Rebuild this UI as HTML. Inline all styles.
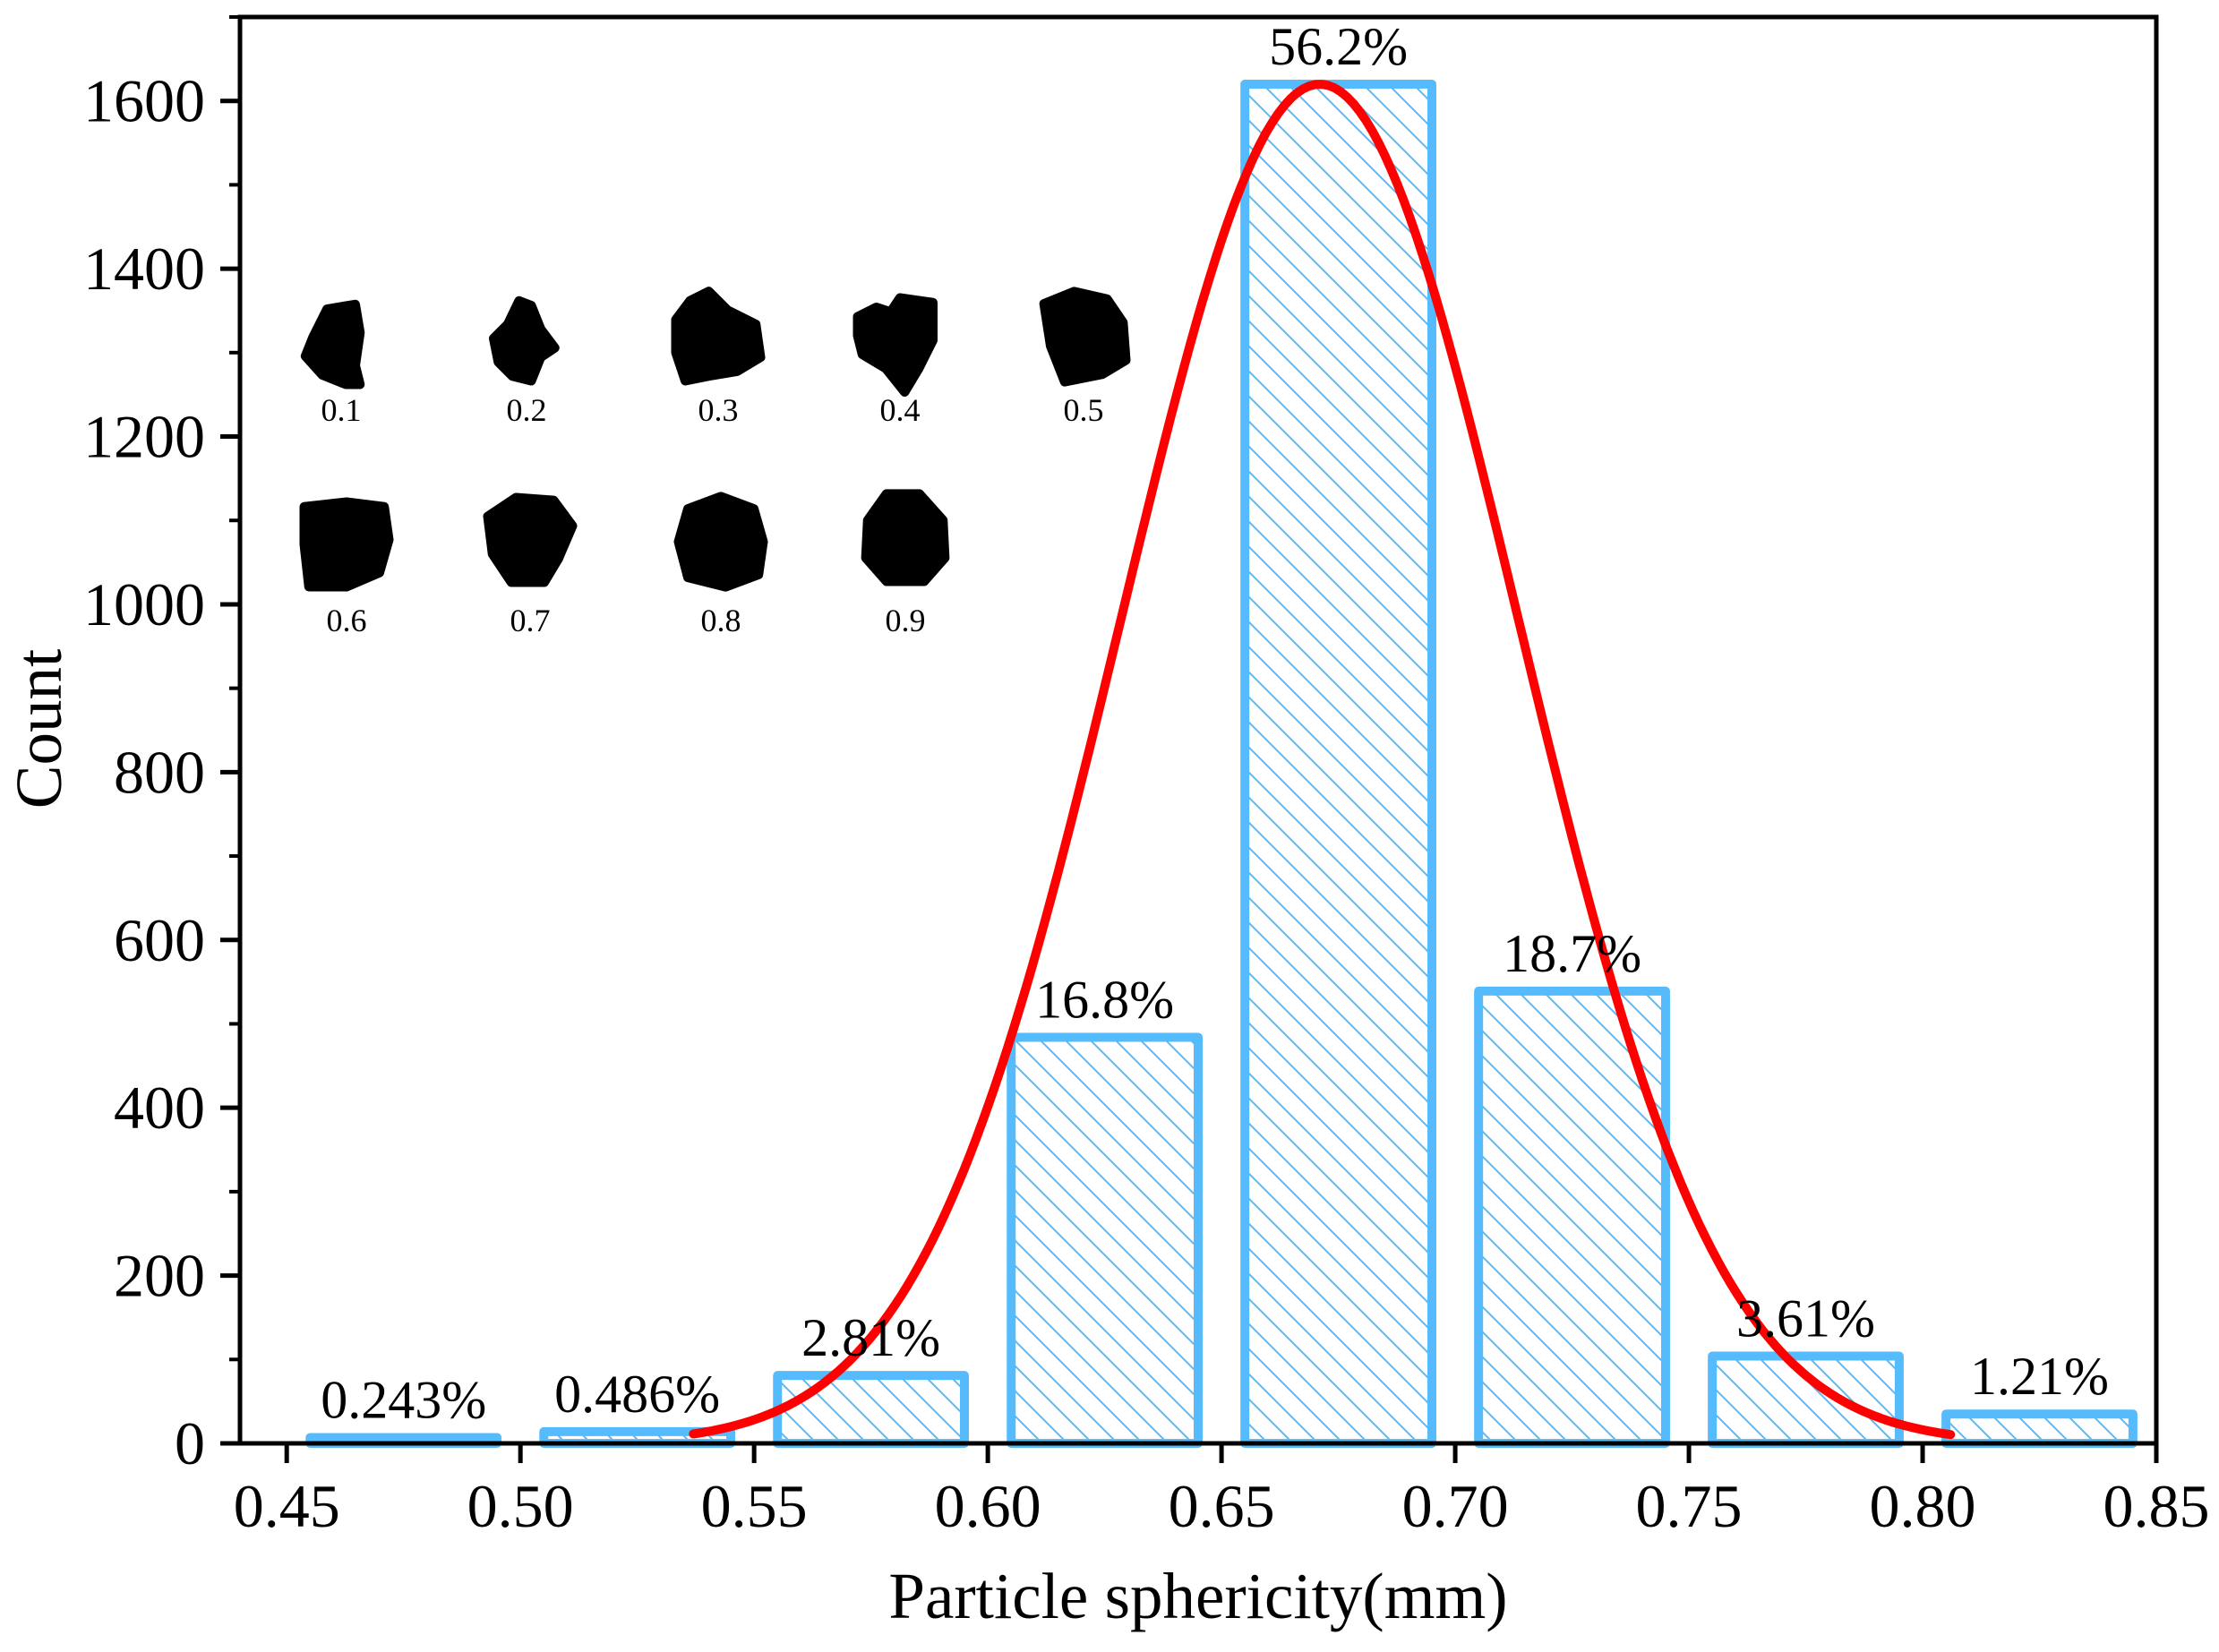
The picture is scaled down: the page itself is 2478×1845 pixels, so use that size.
<!DOCTYPE html>
<html><head><meta charset="utf-8"><style>
html,body{margin:0;padding:0;background:#fff;}
svg{display:block;font-family:"Liberation Serif",serif;}
</style></head><body>
<svg id="chart" width="2478" height="1845" viewBox="0 0 2478 1845" xmlns="http://www.w3.org/2000/svg">
<defs>
<pattern id="hatch" patternUnits="userSpaceOnUse" width="28" height="28">
<path d="M-7,-7 L35,35 M-7,21 L7,35 M21,-7 L35,7" stroke="#55bbfc" stroke-width="2"/>
</pattern>
<clipPath id="plotclip"><rect x="268" y="19" width="2140" height="1593"/></clipPath>
</defs>
<g id="particles"></g>
<g id="bars"></g>
<g id="curve" clip-path="url(#plotclip)"></g>
<g id="labels"></g>
<g id="axes"></g>
<text x="1338" y="1807" font-size="73" text-anchor="middle">Particle sphericity(mm)</text>
<text transform="translate(68,814) rotate(-90)" font-size="73" text-anchor="middle">Count</text>
</svg>
<script>
const binStarts = [0.455,0.505,0.555,0.605,0.655,0.705,0.755,0.805];
const binWidth = 0.04;
const counts = [7,14,81,484,1620,539,104,35];
const pctLabels = ["0.243%","0.486%","2.81%","16.8%","56.2%","18.7%","3.61%","1.21%"];
const xTicks = [0.45,0.50,0.55,0.60,0.65,0.70,0.75,0.80,0.85];
const yTicks = [0,200,400,600,800,1000,1200,1400,1600];
const fitMean = 0.671;
const fitSigma = 0.0425;
const fitPeak = 1620;
const fitRange = [0.537,0.806];
const shapeLabels = ["0.1","0.2","0.3","0.4","0.5","0.6","0.7","0.8","0.9"];

const X0=268, X1=2408, Y0=1612, Y1=19, XMIN=0.44, XMAX=0.85, YMIN=0, YMAX=1700;
const sx = v => X0 + (v-XMIN)/(XMAX-XMIN)*(X1-X0);
const sy = v => Y0 - (v-YMIN)/(YMAX-YMIN)*(Y0-Y1);
const NS="http://www.w3.org/2000/svg";
function mk(tag, attrs, parent){const e=document.createElementNS(NS,tag);for(const k in attrs)e.setAttribute(k,attrs[k]);parent.appendChild(e);return e;}

const bars=document.getElementById('bars');
const labels=document.getElementById('labels');
counts.forEach((c,i)=>{
  const x=sx(binStarts[i]), w=sx(binStarts[i]+binWidth)-x, y=sy(c), h=Y0-y;
  const r=mk('rect',{x:x,y:y,width:w,height:h,fill:'url(#hatch)',stroke:'#55bbfc','stroke-width':10,'stroke-linejoin':'round'},bars);
  
  
  const t=mk('text',{x:x+w/2,y:y-22,'font-size':60,'text-anchor':'middle'},labels);
  t.textContent=pctLabels[i];
  
  
});

const curveG=document.getElementById('curve');
let d='';
for(let k=0;k<=200;k++){
  const v=fitRange[0]+(fitRange[1]-fitRange[0])*k/200;
  const c=fitPeak*Math.exp(-Math.pow(v-fitMean,2)/(2*fitSigma*fitSigma));
  d+=(k?'L':'M')+sx(v).toFixed(1)+','+sy(c).toFixed(1);
}
const cp=mk('path',{d:d,fill:'none',stroke:'#ff0000','stroke-width':10,'stroke-linecap':'round'},curveG);



const ax=document.getElementById('axes');
const frame=mk('rect',{x:X0,y:Y1,width:X1-X0,height:Y0-Y1,fill:'none',stroke:'#000','stroke-width':5},ax);


xTicks.forEach(v=>{
  const x=sx(v);
  mk('line',{x1:x,y1:Y0,x2:x,y2:Y0+22,stroke:'#000','stroke-width':5},ax);
  const t=mk('text',{x:x,y:1705,'font-size':68,'text-anchor':'middle'},ax);
  t.textContent=v.toFixed(2);
  
  
});
yTicks.forEach(v=>{
  const y=sy(v);
  mk('line',{x1:X0-22,y1:y,x2:X0,y2:y,stroke:'#000','stroke-width':5},ax);
  mk('line',{x1:X0-12,y1:sy(v+100),x2:X0,y2:sy(v+100),stroke:'#000','stroke-width':4},ax);
  const t=mk('text',{x:229,y:y+23,'font-size':68,'text-anchor':'end'},ax);
  t.textContent=v;
  
  
});

// particle shape inset
const pg=document.getElementById('particles');
const cx=[381,588,802,1005,1210,387,592,805,1011];
const cyRow=[382,378,378,380,376,608,603,605,602];
const shapes=[
 "M-30,-5 L-15,-35 L15,-40 L20,-10 L15,25 L20,45 L5,45 L-20,35 L-38,15 Z",
 "M-8,-40 L5,-35 L15,-10 L30,10 L15,20 L5,45 L-15,40 L-30,25 L-35,0 L-20,-15 Z",
 "M-45,-20 L-30,-40 L-10,-50 L10,-30 L40,-15 L45,20 L20,35 L-10,40 L-35,45 L-45,15 Z",
 "M-45,-25 L-25,-35 L-10,-30 L0,-45 L35,-40 L35,0 L20,30 L5,55 L-15,30 L-40,15 L-45,-5 Z",
 "M-42,-35 L-10,-48 L25,-40 L42,-15 L45,25 L20,40 L-20,48 L-35,10 Z",
 "M-45,-40 L0,-45 L40,-40 L45,-5 L35,30 L0,45 L-40,45 L-45,0 Z",
 "M-45,-25 L-15,-45 L25,-42 L45,-15 L30,20 L15,45 L-20,45 L-40,15 Z",
 "M-45,0 L-35,-35 L0,-48 L35,-35 L45,0 L40,35 L5,48 L-35,38 Z",
 "M-40,-20 L-20,-48 L15,-48 L40,-20 L42,20 L20,45 L-20,45 L-42,20 Z"
];
shapes.forEach((s,i)=>{
  const p=mk('path',{d:s,transform:'translate('+cx[i]+','+cyRow[i]+') scale(1.05)',fill:'#000',stroke:'#000','stroke-width':10,'stroke-linejoin':'round'},pg);
  
  
  const t=mk('text',{x:cx[i],y:(i<5?470:705),'font-size':36,'text-anchor':'middle'},pg);
  t.textContent=shapeLabels[i];
  
  
});
</script>
</body></html>
